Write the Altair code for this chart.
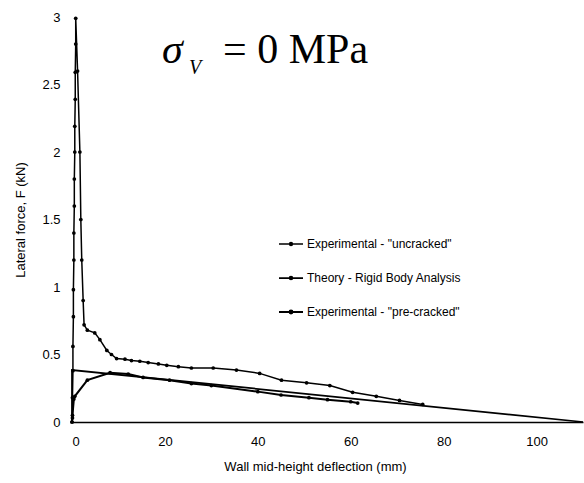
import altair as alt
import pandas as pd

# ---- data ----
series_names = ['Experimental - "uncracked"', 'Theory - Rigid Body Analysis', 'Experimental - "pre-cracked"']

unc_x = [0.0, 0.1, 0.1, 0.2, 0.2, 0.3, 0.3, 0.4, 0.4, 0.5, 0.5, 0.6, 0.6, 0.7, 0.7, 0.8, 0.8,
         1.2, 1.7, 1.9, 2.1, 2.4, 2.6, 3.3, 4.9, 6.0, 7.5, 8.5, 9.6, 11.4, 12.8, 14.6, 16.4,
         18.6, 20.4, 22.9, 25.7, 30.4, 35.4, 40.4, 45.1, 50.5, 55.5, 60.4, 65.5, 70.5, 75.5]
unc_y = [0.0, 0.03, 0.18, 0.38, 0.56, 0.78, 0.98, 1.2, 1.4, 1.6, 1.8, 2.0, 2.19, 2.39, 2.59, 2.8, 2.99,
         2.6, 2.0, 1.5, 1.2, 0.9, 0.72, 0.68, 0.66, 0.61, 0.53, 0.50, 0.47, 0.465, 0.455, 0.45, 0.44,
         0.43, 0.42, 0.41, 0.40, 0.40, 0.385, 0.36, 0.31, 0.29, 0.27, 0.22, 0.19, 0.16, 0.13]

theory_x = [0.0, 0.0, 110.0]
theory_y = [0.0, 0.385, 0.0]

pre_x = [0.0, 0.1, 0.4, 0.6, 3.3, 8.2, 12.1, 15.3, 21.0, 25.7, 30.0, 40.0, 45.0, 51.0, 55.0, 60.0, 61.5]
pre_y = [0.0, 0.05, 0.17, 0.19, 0.31, 0.365, 0.355, 0.33, 0.31, 0.285, 0.27, 0.225, 0.20, 0.18, 0.165, 0.15, 0.14]

x_ticks = [0, 20, 40, 60, 80, 100]
y_ticks = [0, 0.5, 1, 1.5, 2, 2.5, 3]

rows = []
for name, xs, ys in [(series_names[0], unc_x, unc_y),
                     (series_names[1], theory_x, theory_y),
                     (series_names[2], pre_x, pre_y)]:
    for i, (a, b) in enumerate(zip(xs, ys)):
        rows.append({"series": name, "x": a, "y": b, "i": i})
df = pd.DataFrame(rows)

FONT = "Liberation Sans"
xs = alt.Scale(domain=[0, 110], nice=False, zero=False)
ys = alt.Scale(domain=[0, 3], nice=False)

sym_path = "M-1,0L1,0M-0.12,0A0.12,0.12,0,1,1,0.12,0A0.12,0.12,0,1,1,-0.12,0Z"

color = alt.Color("series:N",
                  scale=alt.Scale(domain=series_names, range=["black", "black", "black"]),
                  legend=alt.Legend(title=None, orient="none", legendX=206, legendY=214,
                                    symbolType=sym_path, symbolSize=576, symbolStrokeWidth=1.5,
                                    symbolFillColor="black",
                                    labelFont=FONT, labelFontSize=12, labelColor="black",
                                    rowPadding=15, labelOffset=3))

width_scale = alt.StrokeWidth("series:N",
                              scale=alt.Scale(domain=series_names, range=[1.5, 2, 1.2]),
                              legend=None)

base = alt.Chart(df)

lines = base.mark_line(interpolate="linear").encode(
    x=alt.X("x:Q", scale=xs,
            axis=alt.Axis(values=x_ticks, title="Wall mid-height deflection (mm)", grid=False,
                          ticks=False, domainColor="black", domainWidth=1.5,
                          labelFont=FONT, labelFontSize=13, labelColor="black", labelPadding=13,
                          titleFont=FONT, titleFontSize=13, titleFontWeight="normal",
                          titleColor="black", titlePadding=12, titleX=243)),
    y=alt.Y("y:Q", scale=ys,
            axis=alt.Axis(values=y_ticks, title="Lateral force, F (kN)", grid=False,
                          ticks=False, domain=False, format="~g",
                          labelFont=FONT, labelFontSize=13, labelColor="black", labelPadding=12,
                          titleFont=FONT, titleFontSize=13, titleFontWeight="normal",
                          titleColor="black", titlePadding=14)),
    color=color,
    strokeWidth=width_scale,
    order=alt.Order("i:Q"),
    detail="series:N",
)

pts = alt.Chart(df[df["series"] != series_names[1]]).mark_circle(size=14, opacity=1, color="black").encode(
    x=alt.X("x:Q", scale=xs),
    y=alt.Y("y:Q", scale=ys),
)

sig = alt.Chart(pd.DataFrame({"t": ["σ"]})).mark_text(
    font="Liberation Serif", fontSize=42, fontStyle="italic", align="left", baseline="alphabetic",
    color="black").encode(text="t:N", x=alt.value(90), y=alt.value(46))
sub = alt.Chart(pd.DataFrame({"t": ["V"]})).mark_text(
    font="Liberation Serif", fontSize=20, fontStyle="italic", align="left", baseline="alphabetic",
    color="black").encode(text="t:N", x=alt.value(117), y=alt.value(57))
rest = alt.Chart(pd.DataFrame({"t": ["= 0 MPa"]})).mark_text(
    font="Liberation Serif", fontSize=42, align="left", baseline="alphabetic",
    color="black").encode(text="t:N", x=alt.value(151), y=alt.value(46))

chart = alt.layer(lines, pts, sig, sub, rest).properties(
    width=511, height=405,
    autosize=alt.AutoSizeParams(type="none"),
    padding={"left": 72, "top": 17, "right": 1, "bottom": 61},
    background="white",
).configure_view(stroke=None)

chart.save("out.html", embed_options={"renderer": "svg", "actions": False})
